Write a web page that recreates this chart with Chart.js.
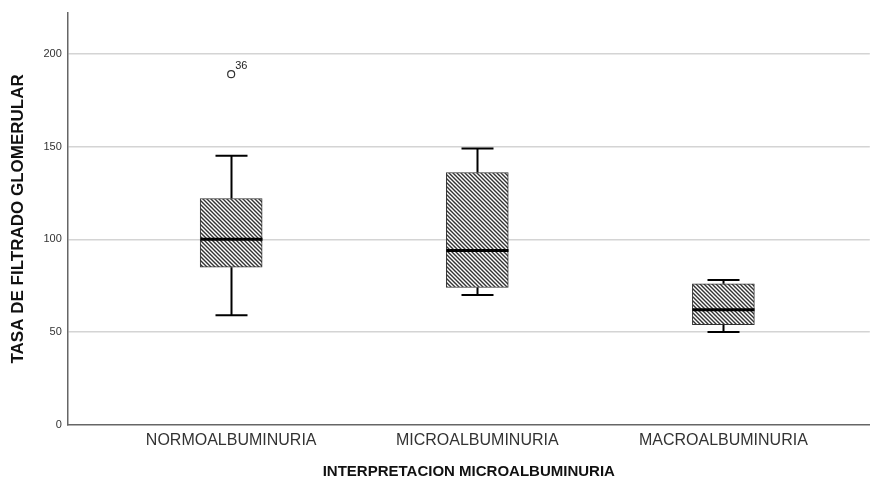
<!DOCTYPE html>
<html>
<head>
<meta charset="utf-8">
<script src="https://cdn.jsdelivr.net/npm/chart.js@4"></script>
<style>
  body { margin: 0; background: #fff; }
  #wrap { width: 875px; height: 481px; }
</style>
</head>
<body>
<div id="wrap"><canvas id="boxChart"></canvas></div>
<script>
// box plot values
const categories = ['NORMOALBUMINURIA', 'MICROALBUMINURIA', 'MACROALBUMINURIA'];
const whiskerLow = [59, 70, 50];
const q1 = [85, 74, 54];
const median = [100, 94, 62];
const q3 = [122, 136, 76];
const whiskerHigh = [145, 149, 78];
// outliers: category position, value, case number
const outlierCat = [1];
const outlierVal = [189];
const outlierId = ['36'];
const yTicks = [0, 50, 100, 150, 200];

// diagonal hatch like SPSS
function hatch() {
  let c = document.createElement('canvas');
  c.width = 4; c.height = 4;
  let g = c.getContext('2d');
  g.fillStyle = '#fff';
  g.fillRect(0, 0, 4, 4);
  g.strokeStyle = '#333';
  g.lineWidth = 1.4;
  g.beginPath();
  g.moveTo(-1, -1); g.lineTo(5, 5);
  g.moveTo(-1, 3); g.lineTo(1, 5);
  g.moveTo(3, -1); g.lineTo(5, 1);
  g.stroke();
  return g.createPattern(c, 'repeat');
}

let boxData = categories.map((c, i) => ({ x: i + 1, y: [q1[i], q3[i]] }));
let outData = outlierCat.map((c, i) => ({ x: c, y: outlierVal[i] }));

// whiskers, medians and outlier labels
const whiskerPlugin = {
  id: 'whiskers',
  afterDatasetsDraw(chart) {
    const ctx = chart.ctx;
    const xs = chart.scales.x, ys = chart.scales.y;
    const boxW = 62, capW = 32;
    ctx.save();
    ctx.strokeStyle = '#000';
    categories.forEach((c, i) => {
      let cx = Math.round(xs.getPixelForValue(i + 1)) + 0.5;
      ctx.lineWidth = 2;
      ctx.beginPath();
      ctx.moveTo(cx, ys.getPixelForValue(q3[i]));
      ctx.lineTo(cx, ys.getPixelForValue(whiskerHigh[i]));
      ctx.moveTo(cx - capW / 2, ys.getPixelForValue(whiskerHigh[i]));
      ctx.lineTo(cx + capW / 2, ys.getPixelForValue(whiskerHigh[i]));
      ctx.moveTo(cx, ys.getPixelForValue(q1[i]));
      ctx.lineTo(cx, ys.getPixelForValue(whiskerLow[i]));
      ctx.moveTo(cx - capW / 2, ys.getPixelForValue(whiskerLow[i]));
      ctx.lineTo(cx + capW / 2, ys.getPixelForValue(whiskerLow[i]));
      ctx.stroke();
      ctx.lineWidth = 3;
      ctx.beginPath();
      ctx.moveTo(cx - boxW / 2, ys.getPixelForValue(median[i]));
      ctx.lineTo(cx + boxW / 2, ys.getPixelForValue(median[i]));
      ctx.stroke();
    });
    ctx.fillStyle = '#222';
    ctx.font = '11px "Liberation Sans", Arial, sans-serif';
    ctx.textBaseline = 'bottom';
    outlierId.forEach((id, i) => {
      ctx.fillText(id, xs.getPixelForValue(outlierCat[i]) + 4, ys.getPixelForValue(outlierVal[i]) - 3);
    });
    ctx.restore();
  }
};

let boxChart = new Chart(document.getElementById('boxChart'), {
  type: 'bar',
  data: {
    datasets: [{
      type: 'bar',
      data: boxData,
      backgroundColor: hatch(),
      borderColor: '#333',
      borderWidth: 1,
      borderSkipped: false,
      barThickness: 62
    }, {
      type: 'scatter',
      data: outData,
      pointStyle: 'circle',
      pointRadius: 3.5,
      pointBorderWidth: 1.2,
      pointBorderColor: '#333',
      pointBackgroundColor: '#fff'
    }]
  },
  options: {
    responsive: true,
    maintainAspectRatio: false,
    animation: false,
    layout: { padding: { top: 13, right: 2, left: 4, bottom: 0 } },
    plugins: { legend: { display: false }, tooltip: { enabled: false } },
    scales: {
      x: {
        type: 'linear',
        offset: false,
        min: 0.336,
        max: 3.595,
        afterBuildTicks: (axis) => { axis.ticks = [1, 2, 3].map(v => ({ value: v })); },
        ticks: {
          callback: (v) => categories[v - 1],
          color: '#333',
          font: { family: '"Liberation Sans", Arial, sans-serif', size: 16 },
          padding: 6,
          maxRotation: 0,
          autoSkip: false
        },
        grid: { display: false, drawTicks: false },
        border: { display: true, color: '#666', width: 1.5 },
        title: {
          display: true,
          text: 'INTERPRETACION MICROALBUMINURIA',
          color: '#111',
          font: { family: '"Liberation Sans", Arial, sans-serif', size: 15, weight: 'bold' },
          padding: { top: 7, bottom: 0 }
        }
      },
      y: {
        min: 0,
        max: 222,
        afterBuildTicks: (axis) => { axis.ticks = yTicks.map(v => ({ value: v })); },
        ticks: {
          color: '#333',
          font: { family: '"Liberation Sans", Arial, sans-serif', size: 11 },
          padding: 6
        },
        grid: {
          color: (ctx) => ctx.tick && ctx.tick.value === 0 ? 'rgba(0,0,0,0)' : '#d4d4d4',
          lineWidth: 1.5,
          drawTicks: false
        },
        border: { display: true, color: '#666', width: 1.5 },
        title: {
          display: true,
          text: 'TASA DE FILTRADO GLOMERULAR',
          color: '#111',
          font: { family: '"Liberation Sans", Arial, sans-serif', size: 17, weight: 'bold' },
          padding: { bottom: 9 }
        }
      }
    }
  },
  plugins: [whiskerPlugin]
});
</script>
</body>
</html>
